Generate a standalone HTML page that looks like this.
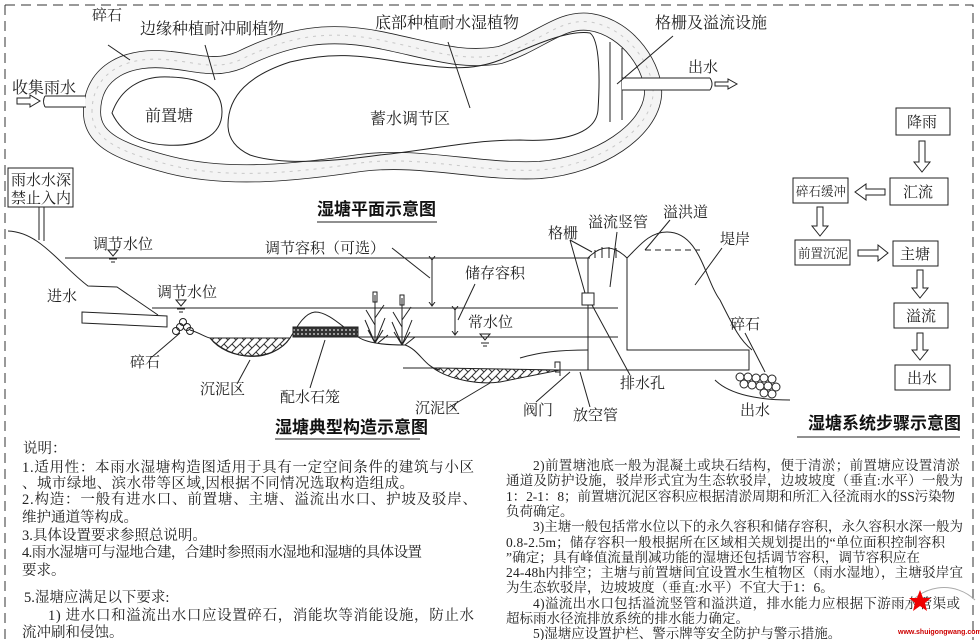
<!DOCTYPE html>
<html><head><meta charset="utf-8">
<style>
html,body{margin:0;padding:0;background:#fff;}
svg{display:block;}
text{font-family:"Liberation Serif","Noto Serif CJK SC",serif;fill:#222;}
.t{font-family:"Liberation Sans","Noto Sans CJK SC",sans-serif;font-weight:bold;font-size:17px;fill:#111;}
.l{stroke:#222;stroke-width:1;fill:none;}
</style></head><body>
<svg width="980" height="640" viewBox="0 0 980 640" xmlns="http://www.w3.org/2000/svg">
<defs>
<marker id="ah" markerWidth="8" markerHeight="8" refX="4" refY="4" orient="auto"><path d="M0,1 L4,4 L0,7" fill="none" stroke="#222"/></marker>
<pattern id="hatch" width="8" height="8" patternUnits="userSpaceOnUse"><path d="M0,8 L8,0 M-2,2 L2,-2 M6,10 L10,6" stroke="#333" stroke-width="1"/><path d="M0,0 L4,4" stroke="#333"/></pattern>
<pattern id="gab" width="4" height="4" patternUnits="userSpaceOnUse"><rect width="4" height="4" fill="#333"/><circle cx="2" cy="2" r="1" fill="#bbb"/></pattern>
</defs>
<path d="M5,5 H973 V640 M5,5 V640" stroke="#333" stroke-dasharray="10,6" fill="none"/>

<!-- plan view band -->
<path d="M92,112 C92,70 130,55 170,60 C200,63 215,70 240,60 C290,35 330,30 380,40 C430,50 460,62 500,55 C540,42 560,18 590,22 C630,28 655,70 653,95 C650,130 600,165 540,170 C480,173 420,155 360,163 C300,172 230,180 170,165 C120,152 92,140 92,112 Z" fill="none" stroke="#222" stroke-width="18"/>
<path d="M92,112 C92,70 130,55 170,60 C200,63 215,70 240,60 C290,35 330,30 380,40 C430,50 460,62 500,55 C540,42 560,18 590,22 C630,28 655,70 653,95 C650,130 600,165 540,170 C480,173 420,155 360,163 C300,172 230,180 170,165 C120,152 92,140 92,112 Z" fill="none" stroke="#f4f4f4" stroke-width="16.4"/>
<path d="M92,112 C92,70 130,55 170,60 C200,63 215,70 240,60 C290,35 330,30 380,40 C430,50 460,62 500,55 C540,42 560,18 590,22 C630,28 655,70 653,95 C650,130 600,165 540,170 C480,173 420,155 360,163 C300,172 230,180 170,165 C120,152 92,140 92,112 Z" fill="none" stroke="#c8c8c8" stroke-width="1" stroke-dasharray="3,5"/>
<path class="l" d="M112,113 C120,90 140,75 170,77 C205,78 222,90 222,112 C222,138 195,147 165,145 C135,143 120,130 112,113 Z"/>
<path class="l" d="M228,125 C228,95 250,75 290,62 C330,52 360,55 400,62 C440,68 470,72 500,60 C540,42 570,30 590,33 C600,40 600,80 598,110 C596,135 560,142 520,140 C470,140 430,150 380,155 C330,162 280,165 250,155 C235,148 228,138 228,125 Z"/>
<path class="l" d="M610,42 V122 M622,48 V120"/>
<rect x="622" y="78" width="100" height="12" fill="#fff"/>
<path class="l" d="M622,78 H710 M622,90 H710 M710,78 Q714,84 710,90"/>
<path class="l" d="M715,82 H728 V79 L737,84 L728,89 V86 H715 Z"/>
<rect x="45" y="96" width="40" height="11" fill="#fff"/>
<path class="l" d="M45,96 H86 M45,107 H86 M45,96 Q42,101 45,107"/>
<path class="l" d="M17,98 H30 V95 L40,101 L30,107 V104 H17 Z"/>
<text x="12" y="93" font-size="16">收集雨水</text>
<text x="92" y="20" font-size="15">碎石</text><path class="l" d="M108,45 L130,60"/>
<text x="140" y="34" font-size="16">边缘种植耐冲刷植物</text><path class="l" d="M205,45 L215,80"/>
<text x="375" y="28" font-size="16">底部种植耐水湿植物</text><path class="l" d="M448,42 L470,108"/>
<text x="655" y="28" font-size="16">格栅及溢流设施</text><path class="l" d="M673,36 L617,84"/>
<text x="688" y="72" font-size="15">出水</text>
<text x="145" y="121" font-size="16">前置塘</text>
<text x="370" y="124" font-size="16">蓄水调节区</text>
<text class="t" x="317" y="215">湿塘平面示意图</text>
<path class="l" d="M317,222 H437"/>

<rect x="8" y="168" width="65" height="39" fill="#fff" stroke="#222"/>
<text x="11" y="185" font-size="15">雨水水深</text>
<text x="11" y="203" font-size="15">禁止入内</text>
<path class="l" d="M39,207 V240 M44,207 V241"/>

<!-- section -->
<path class="l" d="M8,231 C40,232 60,265 88,286 L117,287 L158,315"/>
<path class="l" d="M82,312 L167,316 L167,327 L82,323 Z"/>
<path class="l" d="M65,258 H590 M152,308 H618 M358,337 H618"/>
<g class="l"><path d="M108,250 L118,250 L113,256 Z M109,259 H117 M111,262 H115"/>
<path d="M176,300 L186,300 L181,306 Z M177,309 H185 M179,312 H183"/>
<path d="M480,334 L490,334 L485,340 Z M481,343 H489 M483,346 H487"/></g>
<text x="93" y="249" font-size="15">调节水位</text>
<text x="157" y="297" font-size="15">调节水位</text>
<text x="47" y="301" font-size="15">进水</text>
<text x="265" y="253" font-size="15">调节容积（可选）</text><path class="l" d="M392,248 L430,278"/>
<path class="l" d="M432,260 V306" marker-start="url(#ah)" marker-end="url(#ah)"/>
<text x="465" y="278" font-size="15">储存容积</text><path class="l" d="M475,284 L458,320"/>
<path class="l" d="M455,310 V335" marker-start="url(#ah)" marker-end="url(#ah)"/>
<text x="468" y="327" font-size="15">常水位</text>
<path class="l" d="M190,330 C200,333 205,337 210,338 C230,360 270,365 290,338 C298,325 305,313 315,312 C330,312 345,330 358,337 C370,345 395,345 405,345 C420,350 425,368 440,370"/>
<path d="M210,338 H290 C275,362 228,362 210,338 Z" fill="url(#hatch)" stroke="#222"/>
<rect x="293" y="327" width="65" height="10" fill="url(#gab)" stroke="#222"/>
<path class="l" d="M403,368 H440"/>
<path d="M433,368 C450,380 480,385 500,382 L560,370 L440,368 Z" fill="url(#hatch)" stroke="#222"/>
<path class="l" d="M540,370 H749 V350 H627 V258 M588,258 V370"/>
<path class="l" d="M588,258 Q607,238 627,258"/>
<path class="l" d="M595,250 V258 M602,247 V258 M609,247 V258 M616,248 V258"/>
<rect x="582" y="293" width="12" height="12" fill="#fff" stroke="#222"/>
<path class="l" d="M627,258 C640,245 650,232 667,232 C700,232 705,280 720,300 C735,330 740,340 752,350"/>
<path class="l" d="M645,250 H700" stroke-dasharray="6,4"/>
<path class="l" d="M555,368 V362 H560 V372 H555"/>
<path class="l" d="M560,370 V376 M520,358 C540,352 560,350 588,350"/>
<g class="l"><circle cx="180" cy="327" r="3.5"/><circle cx="187" cy="327" r="3.5"/><circle cx="183" cy="322" r="3.5"/><circle cx="176" cy="331" r="3.5"/><circle cx="190" cy="331" r="3.5"/>
<circle cx="740" cy="377" r="4"/><circle cx="748" cy="377" r="4"/><circle cx="756" cy="378" r="4"/><circle cx="764" cy="378" r="4"/><circle cx="772" cy="379" r="4"/><circle cx="744" cy="384" r="4"/><circle cx="752" cy="385" r="4"/><circle cx="760" cy="386" r="4"/><circle cx="768" cy="386" r="4"/><circle cx="776" cy="387" r="4"/><circle cx="764" cy="393" r="4"/><circle cx="772" cy="394" r="4"/></g>
<path class="l" d="M715,380 C730,395 760,400 790,400"/>
<g class="l"><path d="M375,343 V295 M375,343 L365,320 M375,343 L385,318 M375,343 L368,330 M375,343 L383,330 M375,325 L366,310 M375,318 L384,305 M378,343 L388,335"/>
<rect x="373" y="292" width="4" height="10"/>
<path d="M402,345 V298 M402,345 L392,322 M402,345 L412,320 M402,345 L394,332 M402,345 L410,332 M402,327 L393,312 M402,320 L411,307 M405,345 L415,337"/>
<rect x="400" y="295" width="4" height="10"/></g>
<text x="130" y="367" font-size="15">碎石</text><path class="l" d="M152,357 L180,333"/>
<text x="200" y="394" font-size="15">沉泥区</text><path class="l" d="M237,384 L250,360"/>
<text x="280" y="402" font-size="15">配水石笼</text><path class="l" d="M310,388 L325,340"/>
<text x="415" y="413" font-size="15">沉泥区</text><path class="l" d="M448,408 L490,383"/>
<text x="548" y="238" font-size="15">格栅</text><path class="l" d="M570,240 L592,252 M570,240 L585,293"/>
<text x="588" y="227" font-size="15">溢流竖管</text><path class="l" d="M617,232 L610,287"/>
<text x="663" y="217" font-size="15">溢洪道</text><path class="l" d="M670,220 L645,250"/>
<text x="720" y="244" font-size="15">堤岸</text><path class="l" d="M722,248 L695,285"/>
<text x="730" y="329" font-size="15">碎石</text><path class="l" d="M745,333 L765,372"/>
<text x="620" y="388" font-size="15">排水孔</text><path class="l" d="M630,375 L592,305"/>
<text x="523" y="415" font-size="15">阀门</text><path class="l" d="M536,402 L570,372"/>
<text x="573" y="420" font-size="15">放空管</text><path class="l" d="M590,407 L580,372"/>
<text x="740" y="415" font-size="15">出水</text>
<text class="t" x="275" y="433">湿塘典型构造示意图</text>
<path class="l" d="M275,439 H420"/>

<!-- flow chart -->
<g class="l" fill="#fff">
<rect x="896" y="108" width="54" height="27"/>
<rect x="890" y="178" width="58" height="27"/>
<rect x="793" y="178" width="55" height="25"/>
<rect x="795" y="240" width="55" height="25"/>
<rect x="893" y="241" width="45" height="25"/>
<rect x="894" y="303" width="54" height="25"/>
<rect x="895" y="365" width="55" height="25"/>
<path d="M919,141 V162 H914 L922,172 L930,162 H925 V141 Z"/>
<path d="M885,189 H866 V184 L855,192 L866,200 V195 H885 Z"/>
<path d="M817,207 V226 H812 L820,236 L828,226 H823 V207 Z"/>
<path d="M858,250 H878 V245 L888,253 L878,261 V256 H858 Z"/>
<path d="M917,270 V288 H912 L920,298 L928,288 H923 V270 Z"/>
<path d="M917,333 V350 H912 L920,360 L928,350 H923 V333 Z"/>
</g>
<g font-size="15">
<text x="907" y="127">降雨</text>
<text x="903" y="197">汇流</text>
<text x="796" y="196" font-size="13" textLength="50" lengthAdjust="spacingAndGlyphs">碎石缓冲</text>
<text x="798" y="258" font-size="13" textLength="50" lengthAdjust="spacingAndGlyphs">前置沉泥</text>
<text x="900" y="259">主塘</text>
<text x="906" y="321">溢流</text>
<text x="907" y="383">出水</text>
</g>
<text class="t" x="808" y="429">湿塘系统步骤示意图</text>
<path class="l" d="M797,437 H960"/>

<!-- notes left -->
<g font-size="14.5">
<text x="23" y="453">说明：</text>
<text x="22" y="472" textLength="452" lengthAdjust="spacing">1.适用性：本雨水湿塘构造图适用于具有一定空间条件的建筑与小区</text>
<text x="22" y="488" textLength="392" lengthAdjust="spacing">、城市绿地、滨水带等区域,因根据不同情况选取构造组成。</text>
<text x="22" y="504" textLength="455" lengthAdjust="spacing">2.构造：一般有进水口、前置塘、主塘、溢流出水口、护坡及驳岸、</text>
<text x="22" y="522">维护通道等构成。</text>
<text x="22" y="540">3.具体设置要求参照总说明。</text>
<text x="22" y="557" textLength="400" lengthAdjust="spacing">4.雨水湿塘可与湿地合建，合建时参照雨水湿地和湿塘的具体设置</text>
<text x="22" y="575">要求。</text>
<text x="24" y="602">5.湿塘应满足以下要求:</text>
<text x="48" y="620" textLength="426" lengthAdjust="spacing">1) 进水口和溢流出水口应设置碎石，消能坎等消能设施，防止水</text>
<text x="22" y="637">流冲刷和侵蚀。</text>
</g>
<!-- notes right -->
<g font-size="13.5">
<text x="533" y="470" textLength="427" lengthAdjust="spacing">2)前置塘池底一般为混凝土或块石结构，便于清淤；前置塘应设置清淤</text>
<text x="506" y="485" textLength="457" lengthAdjust="spacing">通道及防护设施，驳岸形式宜为生态软驳岸，边坡坡度（垂直:水平）一般为</text>
<text x="506" y="501" textLength="449" lengthAdjust="spacing">1：2-1：8；前置塘沉泥区容积应根据清淤周期和所汇入径流雨水的SS污染物</text>
<text x="506" y="516">负荷确定。</text>
<text x="533" y="531" textLength="430" lengthAdjust="spacing">3)主塘一般包括常水位以下的永久容积和储存容积，永久容积水深一般为</text>
<text x="506" y="547" textLength="439" lengthAdjust="spacing">0.8-2.5m；储存容积一般根据所在区域相关规划提出的“单位面积控制容积</text>
<text x="506" y="562" textLength="414" lengthAdjust="spacing">”确定；具有峰值流量削减功能的湿塘还包括调节容积，调节容积应在</text>
<text x="506" y="577" textLength="457" lengthAdjust="spacing">24-48h内排空；主塘与前置塘间宜设置水生植物区（雨水湿地），主塘驳岸宜</text>
<text x="506" y="592">为生态软驳岸，边坡坡度（垂直:水平）不宜大于1：6。</text>
<text x="533" y="608" textLength="427" lengthAdjust="spacing">4)溢流出水口包括溢流竖管和溢洪道，排水能力应根据下游雨水管渠或</text>
<text x="506" y="623">超标雨水径流排放系统的排水能力确定。</text>
<text x="533" y="638">5)湿塘应设置护栏、警示牌等安全防护与警示措施。</text>
</g>
<path d="M905,610 A45,45 0 0 1 975,600" fill="none" stroke="#aaa"/>
<polygon points="920,590 923,598 931,598 925,603 927,611 920,606 913,611 915,603 909,598 917,598" fill="#e00"/>
<text x="898" y="634" font-size="7" style="fill:#c00;font-family:'Liberation Sans',sans-serif;font-weight:bold">www.shuigongwang.com</text>
</svg>
</body></html>
